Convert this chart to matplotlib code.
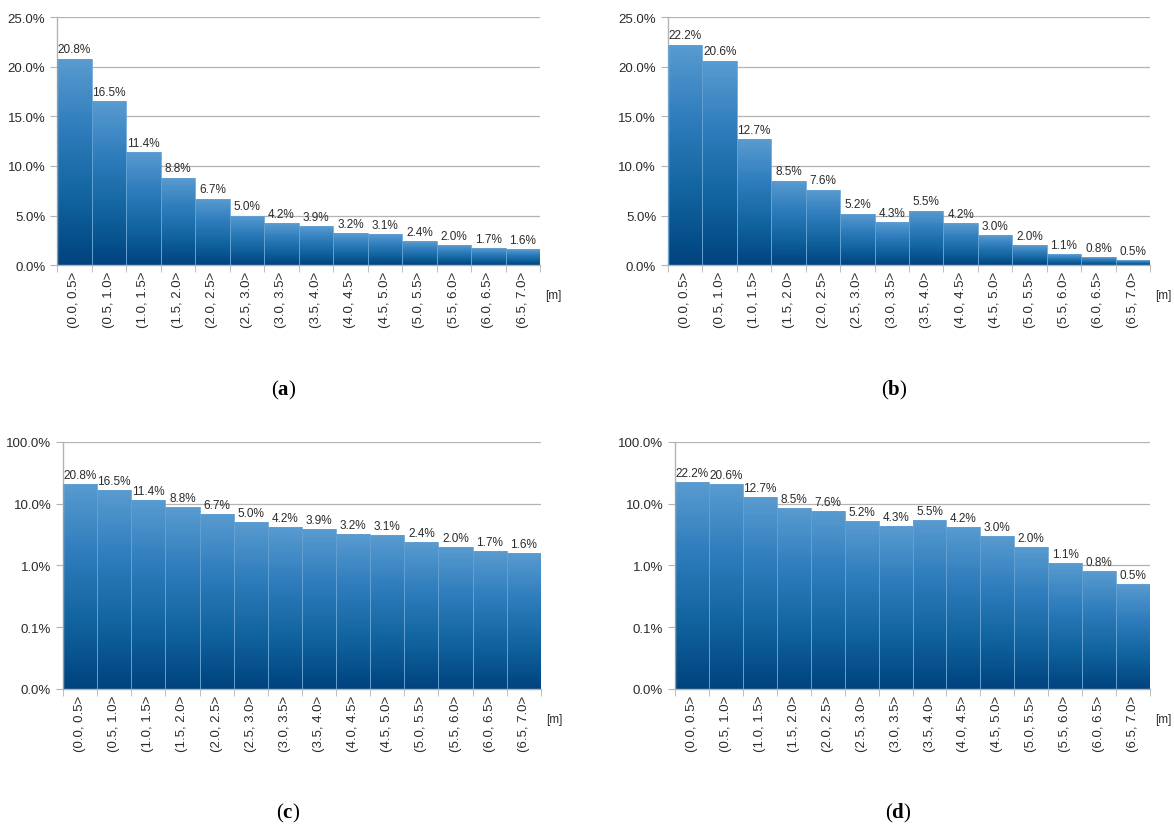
import numpy as np
import matplotlib
matplotlib.use("Agg")
import matplotlib.pyplot as plt
from matplotlib.colors import LinearSegmentedColormap
from matplotlib.ticker import FixedLocator, FuncFormatter

plt.rcParams["font.family"] = ["Liberation Sans", "DejaVu Sans"]
plt.rcParams["mathtext.fontset"] = "custom"
plt.rcParams["mathtext.rm"] = "Liberation Serif"
plt.rcParams["mathtext.bf"] = "Liberation Serif:bold"

# distance bins
categories = ["(0.0, 0.5>", "(0.5, 1.0>", "(1.0, 1.5>", "(1.5, 2.0>", "(2.0, 2.5>",
              "(2.5, 3.0>", "(3.0, 3.5>", "(3.5, 4.0>", "(4.0, 4.5>", "(4.5, 5.0>",
              "(5.0, 5.5>", "(5.5, 6.0>", "(6.0, 6.5>", "(6.5, 7.0>"]

# share of samples [%]
values_a = [20.8, 16.5, 11.4, 8.8, 6.7, 5.0, 4.2, 3.9, 3.2, 3.1, 2.4, 2.0, 1.7, 1.6]
values_b = [22.2, 20.6, 12.7, 8.5, 7.6, 5.2, 4.3, 5.5, 4.2, 3.0, 2.0, 1.1, 0.8, 0.5]

lin_ticks = [0, 5, 10, 15, 20, 25]
log_ticks = [0.01, 0.1, 1, 10, 100]

grad = LinearSegmentedColormap.from_list(
    "bars", ["#00437f", "#11649f", "#2e7cbc", "#579acf"])
grid_col = "#b3b3b3"
text_col = "#2a2a2a"


def draw_panel(ax, values, log, letter):
    n = len(values)
    x = np.arange(n)
    bottom = 0.01 if log else 0.0
    if log:
        ax.set_yscale("log")
        ax.set_ylim(log_ticks[0], log_ticks[-1])
        ax.yaxis.set_major_locator(FixedLocator(log_ticks))
        ax.yaxis.set_minor_locator(FixedLocator([]))
    else:
        ax.set_ylim(lin_ticks[0], lin_ticks[-1])
        ax.yaxis.set_major_locator(FixedLocator(lin_ticks))
    ax.yaxis.set_major_formatter(FuncFormatter(lambda v, p: f"{v:.1f}%"))
    ax.set_xlim(-0.5, n - 0.5)

    for xi, v in zip(x, values):
        # gradient fill, light on top and dark at the base
        if log:
            ys = np.geomspace(bottom, v, 60)
        else:
            ys = np.linspace(bottom, v, 60)
        c = np.linspace(0, 1, 59).reshape(-1, 1)
        ax.pcolormesh([xi - 0.5, xi + 0.5], ys, c, cmap=grad, vmin=0, vmax=1,
                      shading="flat", zorder=2)
        ax.bar(xi, v - bottom, bottom=bottom, width=1.0, facecolor="none",
               edgecolor="#64a1d3", linewidth=0.6, zorder=3)
        ax.text(xi, v * (1.12 if log else 1.0) + (0 if log else 0.35),
                f"{v:.1f}%", ha="center", va="bottom", fontsize=8.5,
                color=text_col, zorder=4)

    ax.grid(axis="y", color=grid_col, linewidth=0.9, zorder=0)
    ax.set_axisbelow(True)
    for s in ["top", "right"]:
        ax.spines[s].set_visible(False)
    for s in ["left", "bottom"]:
        ax.spines[s].set_color(grid_col)
        ax.spines[s].set_linewidth(1.0)

    ax.set_xticks(x)
    ax.set_xticklabels(categories, rotation=90, fontsize=9.5, color=text_col)
    ax.set_xticks(np.arange(n + 1) - 0.5, minor=True)
    ax.tick_params(axis="x", which="major", length=0, pad=4)
    ax.tick_params(axis="x", which="minor", length=5, color=grid_col)
    ax.tick_params(axis="y", which="major", length=5, color=grid_col,
                   labelsize=9.5, labelcolor=text_col)
    ax.text(1.01, -0.12, "[m]", transform=ax.transAxes, fontsize=8.5,
            color=text_col, ha="left", va="center")
    ax.text(0.47, -0.50, rf"$(\mathbf{{{letter}}})$", transform=ax.transAxes,
            fontsize=15, ha="center", va="center")


fig = plt.figure(figsize=(11.74, 8.29), dpi=100)
ax_a = fig.add_axes([0.0486, 0.679, 0.4115, 0.2992])
ax_b = fig.add_axes([0.569, 0.679, 0.4106, 0.2992])
ax_c = fig.add_axes([0.0537, 0.1677, 0.407, 0.298])
ax_d = fig.add_axes([0.575, 0.1677, 0.4046, 0.298])

draw_panel(ax_a, values_a, False, "a")
draw_panel(ax_b, values_b, False, "b")
draw_panel(ax_c, values_a, True, "c")
draw_panel(ax_d, values_b, True, "d")

fig.savefig("out.png", dpi=100, facecolor="white")
